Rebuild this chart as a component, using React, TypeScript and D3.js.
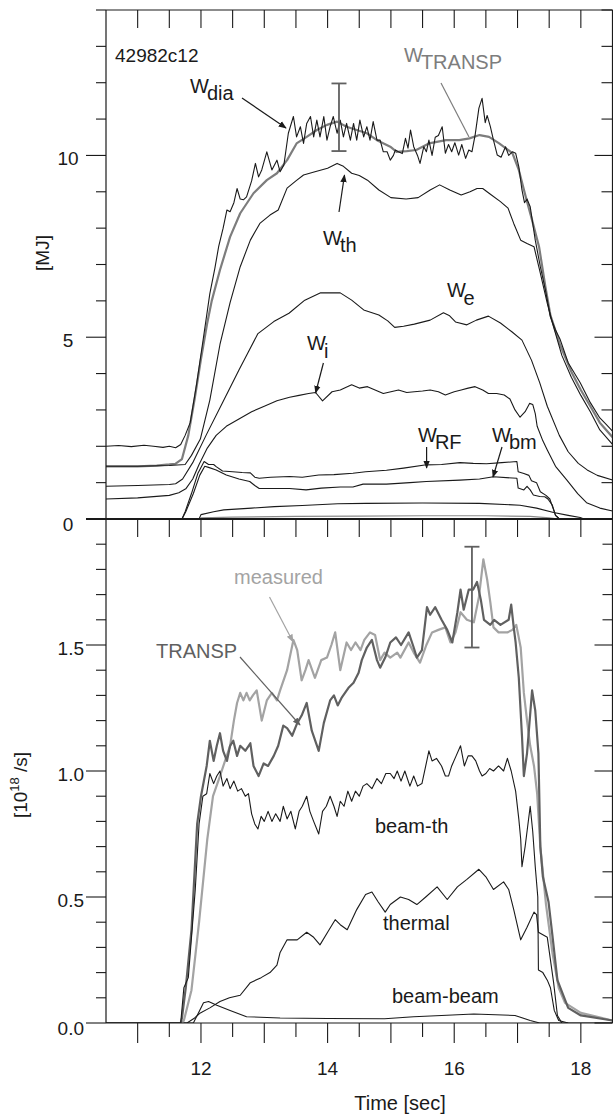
import React from "react";
import * as d3 from "d3";

type P = [number, number];

// ---------- top panel: stored energy [MJ] vs time [s] ----------
const wDia: P[] = [
  [10.5, 2.0], [10.7, 2.02], [10.9, 1.99], [11.1, 2.03], [11.25, 2.0], [11.4, 1.97], [11.5, 2.0], [11.6, 1.96],
  [11.68, 2.05], [11.75, 2.3], [11.83, 2.65], [11.93, 3.7], [12.04, 5.0], [12.14, 6.2], [12.22, 6.9], [12.28, 7.5],
  [12.35, 8.0], [12.41, 8.5], [12.46, 8.45], [12.52, 8.7], [12.57, 9.09], [12.62, 8.8], [12.67, 8.78], [12.72, 8.86],
  [12.8, 9.3], [12.86, 9.78], [12.91, 9.41], [12.96, 9.6], [13.04, 10.1], [13.12, 9.6], [13.2, 9.87], [13.25, 9.55],
  [13.31, 9.74], [13.38, 10.61], [13.46, 11.07], [13.51, 10.51], [13.57, 10.79], [13.62, 10.33], [13.67, 10.88],
  [13.73, 11.07], [13.78, 10.51], [13.83, 10.97], [13.88, 10.51], [13.94, 11.07], [13.99, 10.42], [14.04, 10.79],
  [14.09, 11.07], [14.15, 10.61], [14.2, 10.97], [14.25, 10.51], [14.3, 10.88], [14.36, 10.42], [14.41, 10.88],
  [14.46, 10.42], [14.51, 10.97], [14.57, 10.51], [14.62, 10.79], [14.67, 10.42], [14.72, 10.93], [14.78, 10.42],
  [14.83, 10.42], [14.88, 10.1], [14.94, 10.1], [14.99, 9.87], [15.04, 10.0], [15.07, 10.15], [15.12, 10.1],
  [15.18, 10.05], [15.23, 10.47], [15.27, 10.2], [15.31, 10.7], [15.36, 10.24], [15.42, 10.0], [15.46, 9.78],
  [15.52, 10.24], [15.56, 10.1], [15.6, 10.42], [15.65, 10.0], [15.7, 10.5], [15.75, 10.55], [15.81, 10.79],
  [15.86, 10.06], [15.91, 10.3], [15.96, 10.1], [16.01, 10.35], [16.07, 10.01], [16.12, 10.3], [16.18, 9.92],
  [16.23, 10.15], [16.28, 10.1], [16.33, 10.56], [16.39, 11.3], [16.44, 11.57], [16.49, 10.9], [16.52, 11.1],
  [16.57, 10.8], [16.62, 10.42], [16.68, 10.01], [16.74, 9.95], [16.81, 10.24], [16.86, 10.0], [16.92, 10.1],
  [16.97, 10.06], [17.02, 9.69], [17.07, 9.05], [17.11, 8.7], [17.15, 8.8], [17.2, 8.59], [17.28, 7.67],
  [17.36, 6.94], [17.44, 6.3], [17.52, 5.56], [17.6, 5.2], [17.67, 4.95], [17.8, 4.3], [17.99, 3.75], [18.15, 3.2],
  [18.3, 2.78], [18.4, 2.6], [18.5, 2.42],
];

const wTransp: P[] = [
  [10.5, 1.45], [11.0, 1.45], [11.3, 1.47], [11.5, 1.5], [11.6, 1.52], [11.7, 1.65], [11.8, 2.3], [11.9, 3.3],
  [12.0, 4.4], [12.1, 5.4], [12.17, 6.0], [12.3, 6.85], [12.46, 7.76], [12.62, 8.41], [12.83, 8.96], [13.04, 9.32],
  [13.2, 9.51], [13.36, 9.87], [13.51, 10.33], [13.67, 10.51], [13.83, 10.7], [13.99, 10.84], [14.15, 10.93],
  [14.3, 10.79], [14.46, 10.7], [14.62, 10.61], [14.78, 10.42], [14.99, 10.24], [15.09, 10.1], [15.25, 10.12],
  [15.4, 10.15], [15.6, 10.33], [15.87, 10.42], [16.08, 10.42], [16.24, 10.47], [16.4, 10.56], [16.55, 10.51],
  [16.71, 10.33], [16.92, 10.06], [17.02, 9.6], [17.13, 8.86], [17.23, 8.22], [17.34, 7.49], [17.44, 6.39],
  [17.52, 5.6], [17.67, 4.8], [17.85, 4.05], [18.0, 3.55], [18.15, 3.1], [18.3, 2.65], [18.5, 2.25],
];

const wTh: P[] = [
  [10.5, 1.45], [11.0, 1.45], [11.5, 1.47], [11.75, 1.5], [11.85, 1.75], [11.99, 2.2], [12.14, 3.27], [12.3, 4.8],
  [12.46, 5.95], [12.62, 6.94], [12.78, 7.67], [12.93, 8.13], [13.09, 8.36], [13.22, 8.5], [13.36, 9.1], [13.5, 9.3],
  [13.62, 9.46], [13.8, 9.55], [14.0, 9.65], [14.15, 9.78], [14.25, 9.7], [14.38, 9.51], [14.5, 9.45], [14.63, 9.32],
  [14.81, 9.05], [15.0, 8.84], [15.24, 8.8], [15.43, 8.84], [15.62, 9.05], [15.77, 9.19], [15.93, 9.05],
  [16.11, 8.91], [16.25, 9.0], [16.36, 9.09], [16.45, 9.09], [16.55, 8.96], [16.73, 8.73], [16.85, 8.55],
  [16.94, 8.13], [17.05, 7.67], [17.15, 7.58], [17.26, 7.49], [17.36, 6.76], [17.47, 5.93], [17.55, 5.4],
  [17.7, 4.5], [17.85, 3.9], [18.0, 3.4], [18.15, 2.95], [18.3, 2.45], [18.5, 2.05],
];

const wE: P[] = [
  [10.5, 0.9], [11.0, 0.92], [11.5, 0.95], [11.6, 0.97], [11.71, 1.1], [11.87, 1.55], [12.08, 2.3], [12.34, 3.2],
  [12.6, 4.1], [12.75, 4.6], [12.9, 5.1], [13.15, 5.43], [13.39, 5.66], [13.64, 6.02], [13.89, 6.22], [14.2, 6.22],
  [14.38, 6.02], [14.57, 5.75], [14.81, 5.61], [14.95, 5.45], [15.06, 5.27], [15.2, 5.3], [15.37, 5.36],
  [15.62, 5.47], [15.83, 5.67], [15.92, 5.6], [16.02, 5.42], [16.2, 5.34], [16.35, 5.47], [16.54, 5.58],
  [16.73, 5.39], [16.91, 5.15], [17.07, 4.92], [17.22, 4.37], [17.35, 3.75], [17.47, 3.1], [17.66, 2.3],
  [17.8, 1.85], [17.96, 1.53], [18.1, 1.35], [18.26, 1.2], [18.5, 1.07],
];

const wI: P[] = [
  [10.5, 0.55], [11.0, 0.58], [11.5, 0.65], [11.65, 0.72], [11.76, 0.83], [11.87, 1.1], [11.97, 1.5], [12.1, 1.95],
  [12.24, 2.3], [12.4, 2.55], [12.6, 2.75], [12.8, 2.95], [13.0, 3.1], [13.2, 3.25], [13.4, 3.35], [13.55, 3.4],
  [13.7, 3.45], [13.81, 3.48], [13.92, 3.25], [14.07, 3.5], [14.2, 3.55], [14.38, 3.69], [14.5, 3.6],
  [14.63, 3.64], [14.75, 3.55], [14.88, 3.45], [15.0, 3.5], [15.12, 3.55], [15.25, 3.48], [15.37, 3.5],
  [15.5, 3.52], [15.62, 3.55], [15.75, 3.5], [15.86, 3.41], [16.0, 3.5], [16.11, 3.55], [16.22, 3.6],
  [16.33, 3.64], [16.45, 3.55], [16.54, 3.45], [16.67, 3.45], [16.79, 3.41], [16.88, 3.3], [16.96, 3.0],
  [17.04, 2.8], [17.12, 2.95], [17.19, 3.18], [17.24, 3.15], [17.28, 2.9], [17.31, 2.55], [17.4, 2.15],
  [17.47, 1.9], [17.6, 1.45], [17.78, 1.07], [17.95, 0.7], [18.09, 0.45], [18.3, 0.3], [18.5, 0.22],
];

const wRF: P[] = [
  [10.5, 0], [11.7, 0], [11.75, 0.2], [11.85, 0.7], [11.95, 1.25], [12.05, 1.58], [12.12, 1.5], [12.2, 1.5],
  [12.24, 1.44], [12.34, 1.32], [12.5, 1.3], [12.65, 1.28], [12.78, 1.27], [12.85, 1.15], [12.92, 1.12],
  [13.1, 1.15], [13.4, 1.17], [13.6, 1.15], [13.86, 1.21], [14.1, 1.22], [14.4, 1.26], [14.6, 1.3], [14.93, 1.34],
  [15.2, 1.4], [15.56, 1.49], [15.8, 1.5], [16.09, 1.55], [16.3, 1.53], [16.51, 1.52], [16.75, 1.55],
  [16.99, 1.58], [17.01, 1.3], [17.1, 1.25], [17.18, 1.2], [17.22, 1.05], [17.3, 1.0], [17.36, 0.75],
  [17.45, 0.65], [17.51, 0.55], [17.56, 0.3], [17.6, 0.1], [17.65, 0.02], [17.75, 0],
];

const wBm: P[] = [
  [10.5, 0], [11.7, 0], [11.76, 0.2], [11.88, 0.7], [11.98, 1.2], [12.06, 1.45], [12.12, 1.42], [12.24, 1.35],
  [12.4, 1.21], [12.6, 1.1], [12.77, 1.03], [12.85, 0.92], [12.92, 0.84], [13.4, 0.84], [13.66, 0.8],
  [13.9, 0.85], [14.2, 0.88], [14.4, 0.88], [14.56, 0.96], [14.93, 0.96], [15.3, 1.0], [15.56, 1.03],
  [16.09, 1.07], [16.4, 1.1], [16.62, 1.16], [16.99, 1.12], [17.01, 0.85], [17.1, 0.8], [17.15, 0.9],
  [17.2, 0.8], [17.25, 0.66], [17.35, 0.62], [17.43, 0.61], [17.48, 0.55], [17.55, 0.38], [17.6, 0.1],
  [17.65, 0.02], [17.75, 0],
];

const wLow1: P[] = [
  [10.5, 0], [11.97, 0], [12.0, 0.12], [12.2, 0.2], [12.36, 0.25], [12.8, 0.3], [13.16, 0.34], [13.6, 0.37],
  [14.16, 0.42], [14.6, 0.43], [15.5, 0.44], [16.4, 0.43], [17.04, 0.38], [17.3, 0.3], [17.57, 0.18],
  [17.8, 0.1], [17.99, 0.04], [18.05, 0],
];

const wLow2: P[] = [
  [10.5, 0], [11.98, 0], [12.0, 0.03], [12.5, 0.05], [13.5, 0.07], [14.5, 0.08], [15.5, 0.09], [16.5, 0.09],
  [17.2, 0.07], [17.5, 0.03], [17.65, 0],
];

// ---------- bottom panel: neutron rate [10^18 /s] ----------
const nMeasured: P[] = [
  [10.5, 0], [11.7, 0], [11.73, 0.01], [11.85, 0.13], [11.97, 0.4], [12.1, 0.73], [12.19, 0.9], [12.3, 0.98],
  [12.46, 1.1], [12.52, 1.2], [12.57, 1.27], [12.62, 1.31], [12.67, 1.28], [12.72, 1.31], [12.77, 1.28],
  [12.82, 1.3], [12.88, 1.32], [12.96, 1.2], [13.04, 1.28], [13.12, 1.31], [13.2, 1.28], [13.25, 1.32],
  [13.36, 1.4], [13.46, 1.52], [13.52, 1.48], [13.59, 1.36], [13.65, 1.4], [13.7, 1.44], [13.8, 1.37],
  [13.9, 1.44], [13.99, 1.45], [14.06, 1.5], [14.12, 1.55], [14.2, 1.4], [14.3, 1.51], [14.37, 1.48],
  [14.44, 1.51], [14.52, 1.48], [14.58, 1.52], [14.67, 1.55], [14.75, 1.54], [14.83, 1.44], [14.9, 1.47],
  [14.99, 1.45], [15.1, 1.47], [15.15, 1.45], [15.28, 1.51], [15.36, 1.47], [15.46, 1.43], [15.56, 1.5],
  [15.65, 1.55], [15.75, 1.56], [15.86, 1.57], [15.94, 1.51], [16.02, 1.55], [16.1, 1.63], [16.2, 1.6],
  [16.31, 1.59], [16.39, 1.69], [16.46, 1.84], [16.52, 1.76], [16.57, 1.67], [16.62, 1.57], [16.7, 1.55],
  [16.84, 1.55], [16.92, 1.56], [16.98, 1.58], [17.05, 1.49], [17.1, 1.31], [17.15, 1.2], [17.2, 1.1],
  [17.26, 1.02], [17.31, 0.91], [17.36, 0.7], [17.45, 0.47], [17.55, 0.28], [17.65, 0.14], [17.75, 0.08],
  [18.0, 0.04], [18.5, 0.01],
];

const nTransp: P[] = [
  [10.5, 0], [11.68, 0], [11.7, 0.02], [11.76, 0.14], [11.85, 0.37], [11.94, 0.79], [12.0, 0.9], [12.09, 1.02],
  [12.14, 1.12], [12.2, 1.04], [12.25, 1.1], [12.3, 1.15], [12.35, 1.08], [12.41, 1.04], [12.46, 1.1],
  [12.51, 1.12], [12.57, 1.06], [12.62, 1.1], [12.7, 1.08], [12.78, 1.11], [12.83, 1.02], [12.91, 0.98],
  [12.99, 1.03], [13.06, 1.02], [13.15, 1.06], [13.22, 1.1], [13.3, 1.18], [13.36, 1.17], [13.44, 1.14],
  [13.52, 1.19], [13.59, 1.22], [13.67, 1.27], [13.75, 1.16], [13.86, 1.08], [13.94, 1.19], [14.04, 1.28],
  [14.1, 1.3], [14.16, 1.26], [14.22, 1.29], [14.33, 1.33], [14.41, 1.35], [14.49, 1.39], [14.54, 1.44],
  [14.62, 1.49], [14.7, 1.52], [14.78, 1.44], [14.83, 1.41], [14.91, 1.45], [14.99, 1.51], [15.08, 1.53],
  [15.16, 1.5], [15.28, 1.55], [15.36, 1.49], [15.41, 1.45], [15.49, 1.48], [15.57, 1.65], [15.62, 1.62],
  [15.7, 1.65], [15.8, 1.6], [15.89, 1.56], [15.97, 1.51], [16.05, 1.63], [16.1, 1.72], [16.15, 1.64],
  [16.23, 1.72], [16.3, 1.72], [16.36, 1.75], [16.42, 1.68], [16.47, 1.6], [16.57, 1.58], [16.63, 1.6],
  [16.73, 1.58], [16.86, 1.6], [16.9, 1.66], [16.94, 1.57], [16.97, 1.51], [17.02, 1.37], [17.07, 1.14],
  [17.1, 0.98], [17.15, 1.07], [17.23, 1.32], [17.28, 1.24], [17.33, 1.07], [17.36, 0.7], [17.4, 0.58],
  [17.49, 0.48], [17.55, 0.35], [17.63, 0.17], [17.8, 0.06], [18.0, 0.03], [18.5, 0.01],
];

const nBeamTh: P[] = [
  [10.5, 0], [11.68, 0], [11.73, 0.14], [11.8, 0.18], [11.91, 0.53], [11.97, 0.79], [12.03, 0.9], [12.09, 0.91],
  [12.14, 0.99], [12.2, 0.95], [12.25, 0.98], [12.3, 1.0], [12.35, 0.94], [12.41, 0.97], [12.46, 0.93],
  [12.52, 0.96], [12.58, 0.92], [12.64, 0.93], [12.7, 0.9], [12.75, 0.91], [12.8, 0.83], [12.85, 0.79],
  [12.9, 0.77], [12.95, 0.82], [13.0, 0.8], [13.06, 0.84], [13.12, 0.8], [13.18, 0.83], [13.25, 0.8],
  [13.3, 0.86], [13.36, 0.81], [13.42, 0.84], [13.49, 0.77], [13.55, 0.84], [13.6, 0.86], [13.67, 0.9],
  [13.72, 0.84], [13.78, 0.8], [13.86, 0.75], [13.92, 0.84], [13.98, 0.86], [14.04, 0.9], [14.1, 0.86],
  [14.15, 0.82], [14.2, 0.88], [14.26, 0.86], [14.32, 0.92], [14.38, 0.88], [14.44, 0.92], [14.5, 0.9],
  [14.56, 0.94], [14.62, 0.95], [14.7, 0.93], [14.78, 0.97], [14.85, 0.95], [14.92, 0.99], [14.99, 0.99],
  [15.05, 0.97], [15.1, 1.0], [15.16, 0.96], [15.22, 1.0], [15.3, 0.94], [15.36, 0.98], [15.42, 0.94],
  [15.49, 0.95], [15.55, 1.02], [15.6, 1.08], [15.65, 1.04], [15.72, 1.05], [15.8, 1.02], [15.86, 0.98],
  [15.91, 0.98], [15.96, 1.02], [16.03, 1.06], [16.1, 1.1], [16.16, 1.02], [16.22, 1.06], [16.28, 1.06],
  [16.34, 1.04], [16.4, 1.0], [16.44, 0.98], [16.5, 0.99], [16.56, 1.01], [16.62, 1.0], [16.7, 1.02],
  [16.78, 1.0], [16.84, 1.05], [16.9, 1.0], [16.97, 0.92], [17.02, 0.81], [17.05, 0.73], [17.07, 0.62],
  [17.12, 0.7], [17.2, 0.86], [17.24, 0.76], [17.28, 0.62], [17.32, 0.5], [17.33, 0.21], [17.4, 0.2],
  [17.47, 0.17], [17.52, 0.14], [17.58, 0.05], [17.65, 0.01], [17.8, 0],
];

const nThermal: P[] = [
  [10.5, 0], [11.78, 0], [11.9, 0.02], [11.99, 0.04], [12.14, 0.06], [12.3, 0.085], [12.45, 0.1], [12.62, 0.11],
  [12.78, 0.16], [12.95, 0.18], [13.09, 0.2], [13.2, 0.23], [13.25, 0.28], [13.36, 0.33], [13.52, 0.33],
  [13.67, 0.36], [13.78, 0.34], [13.88, 0.31], [14.0, 0.36], [14.12, 0.41], [14.2, 0.39], [14.31, 0.37],
  [14.46, 0.45], [14.6, 0.51], [14.7, 0.52], [14.8, 0.48], [14.91, 0.44], [14.99, 0.47], [15.15, 0.5],
  [15.28, 0.49], [15.41, 0.47], [15.55, 0.5], [15.73, 0.54], [15.89, 0.49], [16.05, 0.54], [16.2, 0.57],
  [16.39, 0.61], [16.5, 0.58], [16.62, 0.53], [16.78, 0.56], [16.86, 0.53], [16.94, 0.45], [17.05, 0.33],
  [17.15, 0.38], [17.26, 0.44], [17.3, 0.43], [17.33, 0.36], [17.47, 0.34], [17.57, 0.16], [17.63, 0.03],
  [17.7, 0],
];

const nBeamBeam: P[] = [
  [10.5, 0], [11.88, 0], [11.96, 0.04], [12.04, 0.08], [12.12, 0.085], [12.25, 0.07], [12.46, 0.05],
  [12.72, 0.025], [13.25, 0.02], [14.0, 0.018], [14.9, 0.017], [15.36, 0.025], [15.8, 0.03], [16.31, 0.036],
  [16.96, 0.03], [17.2, 0.01], [17.35, 0], [18.5, 0],
];

// error bars: [time, low, high]
const errTop: [number, number, number] = [14.18, 10.12, 11.98];
const errBot: [number, number, number] = [16.28, 1.49, 1.89];

const xTicks = d3.range(11, 18.01, 0.5);
const xLabels = [12, 14, 16, 18];
const yTopTicks = d3.range(0, 14.01, 1);
const yTopLabels = [0, 5, 10];
const yBotTicks = d3.range(0, 2.001, 0.1).map((v) => Math.round(v * 10) / 10);
const yBotLabels = [0, 0.5, 1.0, 1.5];

const W = 613;
const H = 1119;
const L = 106;
const R = 612.5;
const TOP = 10;
const MID = 519;
const BOT = 1023;
const FONT = "'Liberation Sans', Arial, Helvetica, sans-serif";

export default function App() {
  const x = d3.scaleLinear().domain([10.5, 18.5]).range([L, R]);
  const yT = d3.scaleLinear().domain([0, 14]).range([MID, TOP]);
  const yB = d3.scaleLinear().domain([0, 2]).range([BOT, MID]);
  const lineT = d3.line<P>().x((d) => x(d[0])).y((d) => yT(d[1]));
  const lineB = d3.line<P>().x((d) => x(d[0])).y((d) => yB(d[1]));

  const black = "#1a1a1a";
  const greyTop = "#7d7d7d";
  const greyMeas = "#a3a3a3";
  const greyTr = "#606060";

  const isMajorX = (t: number) => Math.abs(t - Math.round(t)) < 1e-6;

  const WLabel = (px: number, py: number, sub: string, color: string, dx = -2, dy = 7) => (
    <text x={px} y={py} fontSize={20} fill={color} fontFamily={FONT}>
      W<tspan dx={dx} dy={dy}>{sub}</tspan>
    </text>
  );

  const arrow = (x1: number, y1: number, x2: number, y2: number, color: string, id: string | null) => (
    <line x1={x1} y1={y1} x2={x2} y2={y2} stroke={color} strokeWidth={1.2}
      markerEnd={id ? `url(#${id})` : undefined} />
  );

  const errBar = (e: [number, number, number], yS: d3.ScaleLinear<number, number>) => {
    const cx = x(e[0]);
    return (
      <g stroke={greyTr} strokeWidth={1.8}>
        <line x1={cx} x2={cx} y1={yS(e[1])} y2={yS(e[2])} />
        <line x1={cx - 7.5} x2={cx + 7.5} y1={yS(e[1])} y2={yS(e[1])} />
        <line x1={cx - 7.5} x2={cx + 7.5} y1={yS(e[2])} y2={yS(e[2])} />
      </g>
    );
  };

  return (
    <div style={{ position: "absolute", left: 0, top: 0, width: W, height: H, overflow: "hidden", background: "#fff" }}>
      <svg width={W} height={H} viewBox={`0 0 ${W} ${H}`} style={{ display: "block" }}>
        <defs>
          <clipPath id="clipTop"><rect x={L} y={TOP} width={R - L} height={MID - TOP} /></clipPath>
          <clipPath id="clipBot"><rect x={L} y={MID} width={R - L} height={BOT - MID} /></clipPath>
          {[["ahK", black], ["ahG", greyMeas], ["ahD", greyTr]].map(([id, c]) => (
            <marker key={id} id={id} viewBox="0 0 10 10" refX={9} refY={5} markerWidth={8} markerHeight={8}
              markerUnits="userSpaceOnUse" orient="auto">
              <path d="M0,1 L10,5 L0,9 z" fill={c} />
            </marker>
          ))}
        </defs>
        <rect x={0} y={0} width={W} height={H} fill="#fff" />

        {/* top panel curves */}
        <g clipPath="url(#clipTop)" fill="none" strokeLinejoin="round">
          <path d={lineT(wLow2) || ""} stroke="#8a8a8a" strokeWidth={1.2} />
          <path d={lineT(wLow1) || ""} stroke={black} strokeWidth={1.1} />
          <path d={lineT(wBm) || ""} stroke={black} strokeWidth={1.1} />
          <path d={lineT(wRF) || ""} stroke={black} strokeWidth={1.1} />
          <path d={lineT(wI) || ""} stroke={black} strokeWidth={1.1} />
          <path d={lineT(wE) || ""} stroke={black} strokeWidth={1.1} />
          <path d={lineT(wTransp) || ""} stroke={greyTop} strokeWidth={2.2} />
          <path d={lineT(wTh) || ""} stroke={black} strokeWidth={1.1} />
          <path d={lineT(wDia) || ""} stroke={black} strokeWidth={1.1} />
        </g>
        {errBar(errTop, yT)}

        {/* bottom panel curves */}
        <g clipPath="url(#clipBot)" fill="none" strokeLinejoin="round">
          <path d={lineB(nBeamBeam) || ""} stroke={black} strokeWidth={1.1} />
          <path d={lineB(nThermal) || ""} stroke={black} strokeWidth={1.1} />
          <path d={lineB(nMeasured) || ""} stroke={greyMeas} strokeWidth={2.2} />
          <path d={lineB(nTransp) || ""} stroke={greyTr} strokeWidth={2.2} />
          <path d={lineB(nBeamTh) || ""} stroke={black} strokeWidth={1.1} />
        </g>
        {errBar(errBot, yB)}

        {/* frame */}
        <g stroke={black} strokeWidth={1.2} fill="none">
          <line x1={L} x2={L} y1={TOP} y2={BOT} />
          <line x1={R} x2={R} y1={TOP} y2={BOT} />
          <line x1={L} x2={R} y1={TOP} y2={TOP} />
          <line x1={L} x2={R} y1={BOT} y2={BOT} />
          <line x1={86} x2={R} y1={MID} y2={MID} strokeWidth={2.2} />
        </g>

        {/* x ticks */}
        <g stroke={black} strokeWidth={1.1}>
          {xTicks.map((t) => (
            <g key={`xt${t}`}>
              <line x1={x(t)} x2={x(t)} y1={TOP} y2={TOP + 18} />
              <line x1={x(t)} x2={x(t)} y1={MID} y2={MID + 18} />
              <line x1={x(t)} x2={x(t)} y1={BOT} y2={BOT + (isMajorX(t) ? 20 : 14)} />
            </g>
          ))}
        </g>

        {/* y ticks */}
        <g stroke={black} strokeWidth={1.1}>
          {yTopTicks.map((v) => {
            const major = v % 5 === 0;
            return (
              <g key={`yt${v}`}>
                <line x1={L - (major ? 20 : 10)} x2={L} y1={yT(v)} y2={yT(v)} />
                <line x1={R - (major ? 18 : 11)} x2={R} y1={yT(v)} y2={yT(v)} />
              </g>
            );
          })}
          {yBotTicks.map((v) => {
            const major = Math.abs(v * 2 - Math.round(v * 2)) < 1e-6;
            return (
              <g key={`yb${v}`}>
                <line x1={L - (major ? 20 : 10)} x2={L} y1={yB(v)} y2={yB(v)} />
                <line x1={R - (major ? 18 : 10)} x2={R} y1={yB(v)} y2={yB(v)} />
              </g>
            );
          })}
        </g>

        {/* tick labels */}
        <g fontFamily={FONT} fontSize={19} fill={black}>
          {yTopLabels.map((v) => (
            <text key={`ytl${v}`} x={68} y={yT(v) + (v === 0 ? 12 : 10)} textAnchor="middle">{v}</text>
          ))}
          {yBotLabels.map((v) => (
            <text key={`ybl${v}`} x={84} y={yB(v) + (v === 0 ? 12 : 10)} textAnchor="end">{v.toFixed(1)}</text>
          ))}
          {xLabels.map((t) => (
            <text key={`xl${t}`} x={x(t)} y={1075} textAnchor="middle">{t}</text>
          ))}
        </g>

        {/* axis titles */}
        <g fontFamily={FONT} fill={black}>
          <text x={400} y={1110} fontSize={20} textAnchor="middle">Time [sec]</text>
          <text transform="translate(49,253) rotate(-90)" fontSize={19} textAnchor="middle">[MJ]</text>
          <text transform="translate(27,785) rotate(-90)" fontSize={19} textAnchor="middle">
            [10<tspan fontSize={13} dy={-8}>18</tspan><tspan dy={8}> /s]</tspan>
          </text>
          <text x={115} y={62} fontSize={19}>42982c12</text>
        </g>

        {/* top panel annotations */}
        {WLabel(190, 93, "dia", black)}
        {arrow(242, 98, 286, 128, black, "ahK")}
        {WLabel(404, 62, "TRANSP", greyTop)}
        {arrow(441, 83, 469, 137, greyTop, null)}
        {WLabel(323, 245, "th", black)}
        {arrow(339, 212, 344.5, 175, black, "ahK")}
        {WLabel(447, 297, "e", black, -2, 8)}
        {WLabel(307, 350, "i", black, -2, 8)}
        {arrow(323.4, 363, 315.6, 393, black, "ahK")}
        {WLabel(418, 442, "RF", black)}
        {arrow(426.6, 447, 426.6, 468, black, "ahK")}
        {WLabel(492, 442, "bm", black)}
        {arrow(502, 447, 493, 477, black, "ahK")}

        {/* bottom panel annotations */}
        <text x={234} y={584} fontSize={20} fill={greyMeas} fontFamily={FONT}>measured</text>
        {arrow(269.5, 597, 293, 641.7, greyMeas, "ahG")}
        <text x={156} y={658} fontSize={20} fill={greyTr} fontFamily={FONT}>TRANSP</text>
        {arrow(240, 657, 300, 725, greyTr, "ahD")}
        <text x={375} y={833} fontSize={20} fill={black} fontFamily={FONT}>beam-th</text>
        <text x={383} y={930} fontSize={20} fill={black} fontFamily={FONT}>thermal</text>
        <text x={392} y={1003} fontSize={20} fill={black} fontFamily={FONT}>beam-beam</text>
      </svg>
    </div>
  );
}
